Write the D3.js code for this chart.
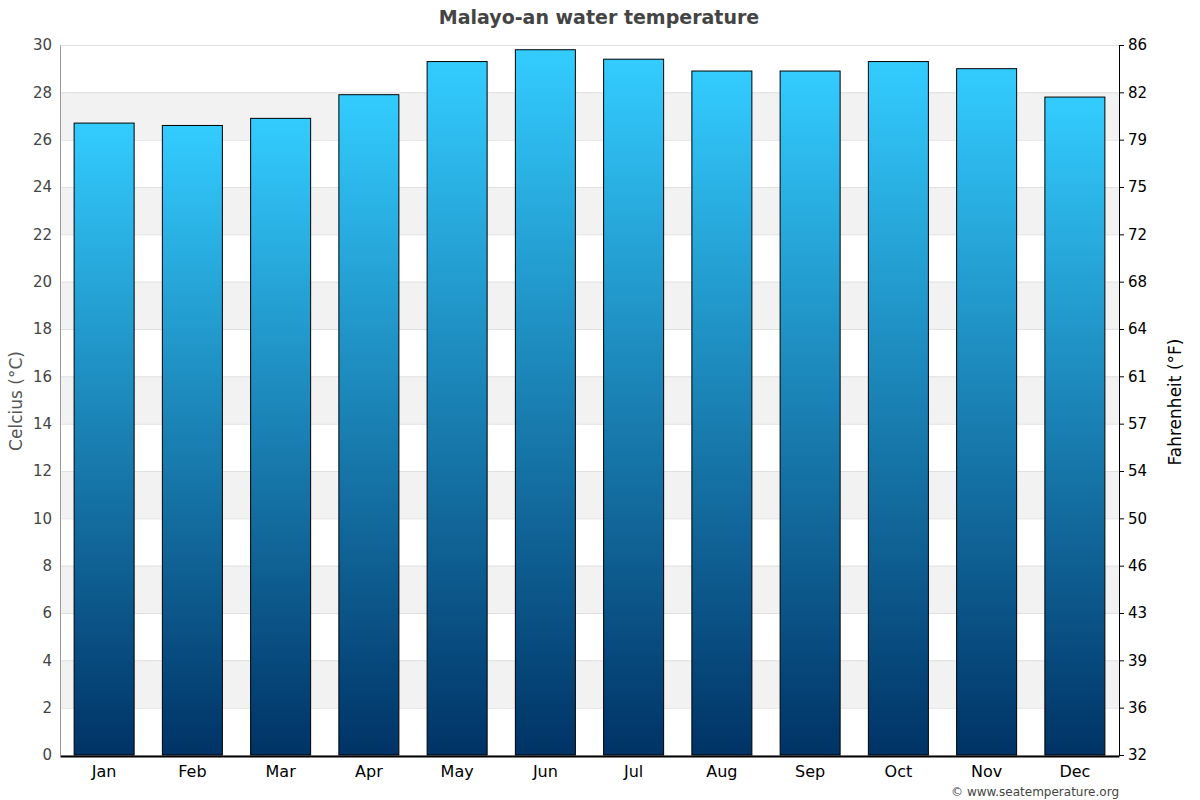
<!DOCTYPE html>
<html>
<head>
<meta charset="utf-8">
<script src="https://cdn.jsdelivr.net/npm/d3@7"></script>
<style>
  body { margin: 0; background: #fff; font-family: 'DejaVu Sans', sans-serif; }
</style>
</head>
<body>
<svg id="chart" width="1200" height="800"></svg>
<script>
// Monthly water temperature (°C)
const months = ['Jan', 'Feb', 'Mar', 'Apr', 'May', 'Jun', 'Jul', 'Aug', 'Sep', 'Oct', 'Nov', 'Dec'];
const tempC = [26.7, 26.6, 26.9, 27.9, 29.3, 29.8, 29.4, 28.9, 28.9, 29.3, 29.0, 27.8];
const cTicks = [0, 2, 4, 6, 8, 10, 12, 14, 16, 18, 20, 22, 24, 26, 28, 30];

const svg = d3.select('#chart');
const width = 1200;
const height = 800;
const margin = { top: 45, right: 81, bottom: 45, left: 60 };

const x = d3.scaleBand()
  .domain(months)
  .range([margin.left, width - margin.right])
  .paddingInner(0.32)
  .paddingOuter(0.16);

const y = d3.scaleLinear()
  .domain([0, 30])
  .range([height - margin.bottom, margin.top]);

// gradient for bars
const defs = svg.append('defs');
const grad = defs.append('linearGradient')
  .attr('id', 'barGrad')
  .attr('x1', 0).attr('y1', 0).attr('x2', 0).attr('y2', 1);
grad.append('stop').attr('offset', '0%').attr('stop-color', '#33ccff');
grad.append('stop').attr('offset', '100%').attr('stop-color', '#003366');

// alternating bands
svg.append('g')
  .selectAll('rect')
  .data(cTicks.filter(t => t % 4 === 2 && t < 30))
  .join('rect')
  .attr('x', margin.left)
  .attr('width', width - margin.left - margin.right)
  .attr('y', d => y(d + 2))
  .attr('height', d => y(d) - y(d + 2))
  .attr('fill', '#f2f2f2');

// gridlines
svg.append('g')
  .attr('transform', `translate(${margin.left},0)`)
  .call(d3.axisLeft(y).tickValues(cTicks).tickSize(-(width - margin.left - margin.right)).tickFormat(''))
  .call(g => g.select('.domain').remove())
  .selectAll('line')
  .attr('stroke', '#e0e0e0');

// left axis
svg.append('g')
  .attr('transform', `translate(${margin.left},0)`)
  .call(d3.axisLeft(y).tickValues(cTicks).tickSize(0).tickPadding(8))
  .call(g => g.select('.domain').attr('stroke', '#999'))
  .selectAll('text')
  .attr('fill', '#444')
  .style('font-size', '15px')
  .style('font-family', 'DejaVu Sans');

// right axis (Fahrenheit labels at Celsius tick positions)
svg.append('g')
  .attr('transform', `translate(${width - margin.right},0)`)
  .call(d3.axisRight(y).tickValues(cTicks).tickSize(5).tickPadding(4)
    .tickFormat(d => Math.round(d * 9 / 5 + 32)))
  .call(g => g.select('.domain').attr('stroke', '#000'))
  .call(g => g.selectAll('line').attr('stroke', '#000'))
  .selectAll('text')
  .attr('fill', '#000')
  .style('font-size', '15px')
  .style('font-family', 'DejaVu Sans');

// bars
svg.append('g')
  .selectAll('rect')
  .data(tempC)
  .join('rect')
  .attr('x', (d, i) => x(months[i]))
  .attr('y', d => y(d))
  .attr('width', x.bandwidth())
  .attr('height', d => y(0) - y(d))
  .attr('fill', 'url(#barGrad)')
  .attr('stroke', '#000')
  .attr('stroke-width', 1);

// bottom axis
svg.append('g')
  .attr('transform', `translate(0,${y(0) + 1})`)
  .call(d3.axisBottom(x).tickSize(0).tickPadding(10))
  .call(g => g.select('.domain').attr('stroke', '#000').attr('stroke-width', 2))
  .selectAll('text')
  .attr('fill', '#000')
  .style('font-size', '16px')
  .style('font-family', 'DejaVu Sans');

// title
svg.append('text')
  .attr('x', 599)
  .attr('y', 24)
  .attr('text-anchor', 'middle')
  .attr('fill', '#444')
  .style('font-size', '19px')
  .style('font-weight', 'bold')
  .text('Malayo-an water temperature');

// axis labels
svg.append('text')
  .attr('transform', 'rotate(-90)')
  .attr('x', -401)
  .attr('y', 22)
  .attr('text-anchor', 'middle')
  .attr('fill', '#555')
  .style('font-size', '17px')
  .text('Celcius (°C)');

svg.append('text')
  .attr('transform', 'rotate(-90)')
  .attr('x', -402)
  .attr('y', 1181)
  .attr('text-anchor', 'middle')
  .attr('fill', '#000')
  .style('font-size', '17px')
  .text('Fahrenheit (°F)');

// credit
svg.append('text')
  .attr('x', 1119)
  .attr('y', 796)
  .attr('text-anchor', 'end')
  .attr('fill', '#444')
  .style('font-size', '12px')
  .text('© www.seatemperature.org');
</script>
</body>
</html>
